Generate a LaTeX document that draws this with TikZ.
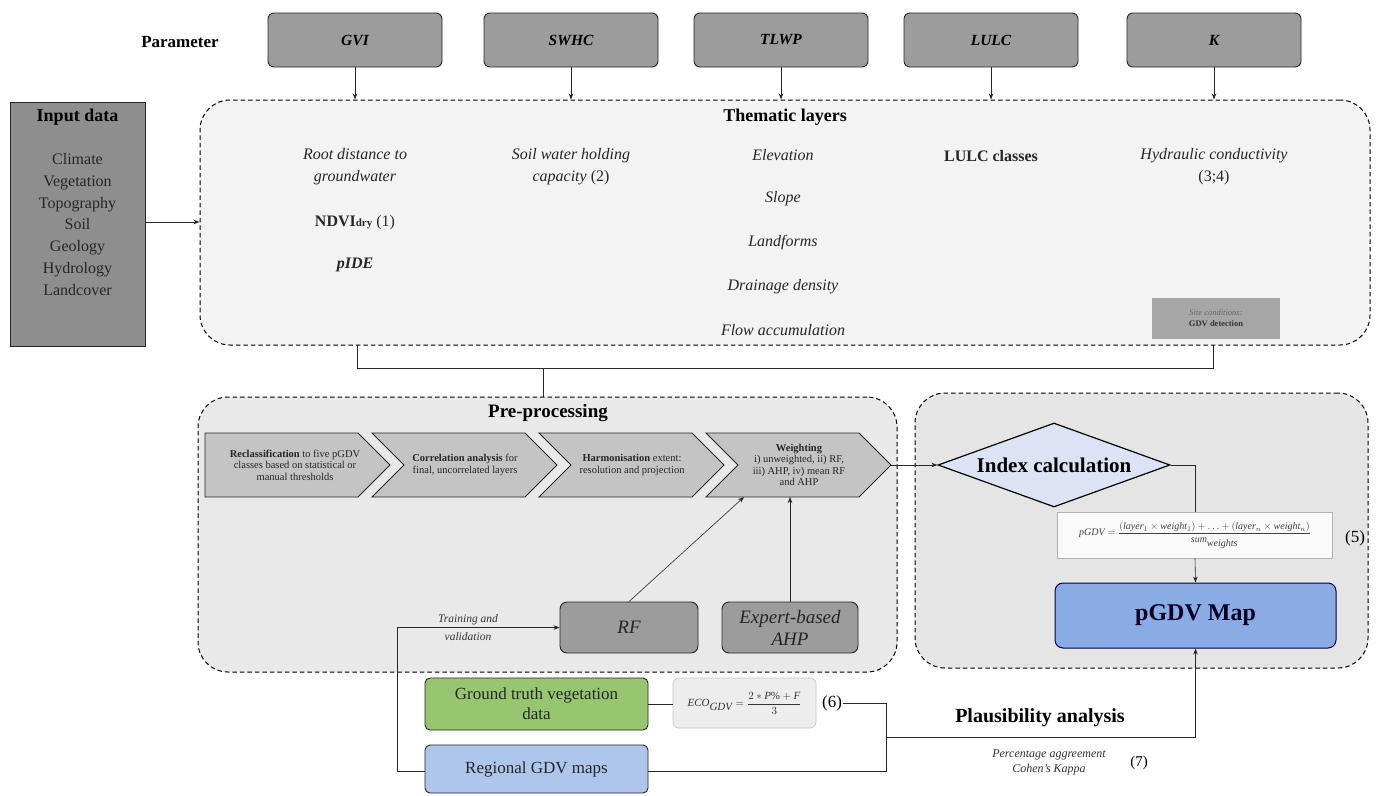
\documentclass[tikz,border=0pt]{standalone}
\usepackage{fontspec}
\setmainfont{Liberation Serif}
\usetikzlibrary{shapes.geometric,arrows.meta,calc}

\definecolor{pgray}{HTML}{9C9C9C}
\definecolor{ingray}{HTML}{8E8E8E}
\definecolor{thbg}{HTML}{F3F3F3}
\definecolor{ppbg}{HTML}{E9E9E9}
\definecolor{ixbg}{HTML}{E5E5E5}
\definecolor{chevfill}{HTML}{C4C4C4}
\definecolor{diafill}{HTML}{DCE3F4}
\definecolor{mapblue}{HTML}{8AABE3}
\definecolor{regblue}{HTML}{AFC6EC}
\definecolor{gtgreen}{HTML}{98C56F}
\definecolor{ecobg}{HTML}{EDEDED}
\definecolor{sitegray}{HTML}{A6A6A6}

\newcommand{\fsz}[2]{\fontsize{#1}{#2}\selectfont}

\begin{document}
\begin{tikzpicture}[x=1pt,y=-1pt,
  arr/.style={-{Stealth[length=6pt,width=4.5pt]},line width=0.6pt,draw=black!85},
  conn/.style={line width=0.6pt,draw=black!85},
  parbox/.style={draw=black!85,line width=0.9pt,fill=pgray,rounded corners=6pt,
    minimum width=174pt,minimum height=54pt,inner sep=0pt,font=\fsz{15.5}{18}\bfseries\itshape},
  zone/.style={draw=black,line width=1pt,dash pattern=on 4.5pt off 3pt,rounded corners=30pt,inner sep=0pt},
  chevron/.style={draw=black!85,line width=0.9pt,fill=chevfill},
  chevtxt/.style={align=center,font=\fsz{10.5}{11.5},text=black!85},
  item/.style={font=\fsz{16}{22}\itshape,align=center,text=black!85},
  greybox/.style={draw=black!85,line width=0.9pt,fill=pgray,rounded corners=7pt,inner sep=0pt,
    align=center,font=\fsz{19}{22}\itshape,text=black!85},
  datbox/.style={draw=black!85,line width=0.9pt,rounded corners=5pt,inner sep=0pt,
    minimum width=223pt,align=center,font=\fsz{17}{20},text=black!85}
]
\useasboundingbox (0,0) rectangle (1380,795);
\fill[white] (0,0) rectangle (1380,795);

% ---------- dashed zones ----------
\node[zone,fill=thbg,minimum width=1170pt,minimum height=245pt] (them) at (785,222.5) {};
\node[zone,fill=ppbg,minimum width=699pt,minimum height=275pt] (prep) at (547.5,534.5) {};
\node[zone,fill=ixbg,minimum width=453pt,minimum height=275pt] (idx) at (1141.5,530.5) {};

% ---------- parameters ----------
\node[font=\fsz{17}{20}\bfseries] (partitle) at (180,42) {Parameter};
\node[parbox] (gvi)  at (355,40)  {GVI};
\node[parbox] (swhc) at (571,40)  {SWHC};
\node[parbox] (tlwp) at (781,40)  {TLWP};
\node[parbox] (lulc) at (991,40)  {LULC};
\node[parbox] (k)    at (1214,40) {K};
\foreach \p in {gvi,swhc,tlwp,lulc,k}
  \draw[arr] (\p.south) -- (\p.south |- them.north);

% ---------- input data ----------
\node[draw=black!85,line width=0.9pt,fill=ingray,minimum width=135pt,minimum height=244pt,inner sep=0pt] (input) at (77.5,224) {};
\node[font=\fsz{18}{20}\bfseries] (intitle) at (77.5,117) {Input data};
\node[align=center,font=\fsz{16}{21.8},text=black!85] (inlist) at (77.5,224.5)
  {Climate\\Vegetation\\Topography\\Soil\\Geology\\Hydrology\\Landcover};
\draw[arr] (input.east |- 0,222) -- (them.west |- 0,222);

% ---------- thematic layers ----------
\node[font=\fsz{18}{20}\bfseries] (themtitle) at (785,117) {Thematic layers};
\node[item] (rootd) at (355,167) {Root distance to\\groundwater};
\node[font=\fsz{16}{20},text=black!85] (ndvi) at (355,223)
  {\textbf{NDVI}{\fsz{11}{12}\textbf{dry}} (1)};
\node[font=\fsz{16}{20}\bfseries\itshape,text=black!85] (pide) at (355,265) {pIDE};
\node[item] (swh) at (571,167) {Soil water holding\\capacity \textup{(2)}};
\node[item] (elev) at (783,155) {Elevation};
\node[item] (slope) at (783,199) {Slope};
\node[item] (landf) at (783,243) {Landforms};
\node[item] (drain) at (783,287) {Drainage density};
\node[item] (flow) at (783,330) {Flow accumulation};
\node[font=\fsz{16}{20}\bfseries,text=black!85] (lulccl) at (991,156) {LULC classes};
\node[item] (hydc) at (1214,167) {Hydraulic conductivity\\\textup{(3;4)}};
\node[draw=gray!70,line width=0.6pt,fill=sitegray,minimum width=127pt,minimum height=40pt,
  inner sep=0pt,align=center,font=\fsz{8.5}{11},text=black!80] (site) at (1216,318)
  {{\itshape\color{black!60}Site conditions:}\\\textbf{GDV detection}};

% ---------- bracket joining the layers ----------
\coordinate (bl) at (357,345);
\coordinate (br) at (1213,345);
\coordinate (bm) at (543,368);
\draw[conn] (bl) -- (bl |- bm) -- (br |- bm) -- (br);
\draw[conn] (bm) -- (bm |- prep.north);

% ---------- pre-processing ----------
\node[font=\fsz{19}{22}\bfseries] (preptitle) at (548,413) {Pre-processing};
\draw[chevron] (205,433) -- (358,433) -- (390,465) -- (358,497) -- (205,497) -- cycle;
\draw[chevron] (372,433) -- (525,433) -- (557,465) -- (525,497) -- (372,497) -- (404,465) -- cycle;
\draw[chevron] (539,433) -- (692,433) -- (724,465) -- (692,497) -- (539,497) -- (571,465) -- cycle;
\draw[chevron] (706,433) -- (859,433) -- (891,465) -- (859,497) -- (706,497) -- (738,465) -- cycle;
\coordinate (c4tip) at (891,465);
\coordinate (c4rf) at (744,497);
\coordinate (c4ahp) at (790,497);
\node[chevtxt] (ch1) at (295,465) {\textbf{Reclassification} to five pGDV\\classes based on statistical or\\manual thresholds};
\node[chevtxt] (ch2) at (465,465) {\textbf{Correlation analysis} for\\final, uncorrelated layers};
\node[chevtxt] (ch3) at (632,465) {\textbf{Harmonisation} extent:\\resolution and projection};
\node[chevtxt] (ch4) at (799,465) {\textbf{Weighting}\\i) unweighted, ii) RF,\\iii) AHP, iv) mean RF\\and AHP};

\node[greybox,minimum width=138pt,minimum height=51pt] (rf) at (629,627.5) {RF};
\node[greybox,minimum width=136pt,minimum height=51pt] (ahp) at (790,627.5) {Expert-based\\AHP};
\draw[arr] (rf.north) -- (c4rf);
\draw[arr] (ahp.north) -- (c4ahp);

% ---------- index calculation ----------
\node[diamond,draw=black,line width=1.2pt,fill=diafill,minimum width=232pt,minimum height=84pt,
  inner sep=0pt,aspect=2.76,font=\fsz{21}{24}\bfseries] (dia) at (1054,465) {Index calculation};
\draw[arr] (c4tip) -- (dia.west);
\node[draw=gray!60,line width=0.6pt,fill=white!96!gray,minimum width=275pt,minimum height=46pt,
  inner sep=0pt,font=\fsz{10}{12},text=black!75] (f5) at (1195,535)
  {$\displaystyle \textit{pGDV}=\frac{(\textit{layer}_1\times\textit{weight}_1)+\dots+(\textit{layer}_n\times\textit{weight}_n)}{\textit{sum}_{\textit{weights}}}$};
\node[font=\fsz{17}{20}] (n5) at (1355,538) {(5)};
\node[draw=black!70!blue,line width=1pt,fill=mapblue,rounded corners=8pt,minimum width=281pt,
  minimum height=65pt,inner sep=0pt,font=\fsz{24}{28}\bfseries,text=black!85!blue] (map) at (1195.5,615.5) {pGDV Map};
\draw[conn] (dia.east) -| (f5.north);
\draw[arr] (f5.south) -- (map.north);

% ---------- validation data ----------
\node[datbox,fill=gtgreen,minimum height=52pt] (gt) at (536.5,704) {Ground truth vegetation\\data};
\node[datbox,fill=regblue,minimum height=48pt] (reg) at (536.5,769) {Regional GDV maps};
\node[draw=gray!45,line width=0.7pt,fill=ecobg,rounded corners=6pt,minimum width=143pt,minimum height=50pt,
  inner sep=0pt,font=\fsz{11}{13},text=black!80] (eco) at (744.5,703)
  {$\displaystyle\textit{ECO}_{\textit{GDV}}=\frac{2*\textit{P}\%+\textit{F}}{3}$};
\node[font=\fsz{17}{20},inner sep=1pt] (n6) at (832,703) {(6)};
\draw[conn] (gt.east) -- (gt.east -| eco.west);

\coordinate (j1) at (886,703);
\coordinate (j2) at (886,771);
\coordinate (jm) at (886,737);
\draw[conn] (n6.east) -- (j1) -- (j2) -- (reg.east |- j2);
\draw[arr] (jm) -| (map.south);

\coordinate (tv) at (397,771);
\draw[arr] (reg.west |- tv) -- (tv) |- (rf.west);
\node[align=center,font=\fsz{11.5}{18}\itshape,text=black!80] (tvlab) at (468,628) {Training and\\validation};

\node[font=\fsz{20}{24}\bfseries] (plaus) at (1040,718) {Plausibility analysis};
\node[align=center,font=\fsz{12}{15}\itshape,text=black!80] (pct) at (1049,762) {Percentage aggreement\\Cohen's Kappa};
\node[font=\fsz{15}{18}] (n7) at (1139,763) {(7)};
\end{tikzpicture}
\end{document}
